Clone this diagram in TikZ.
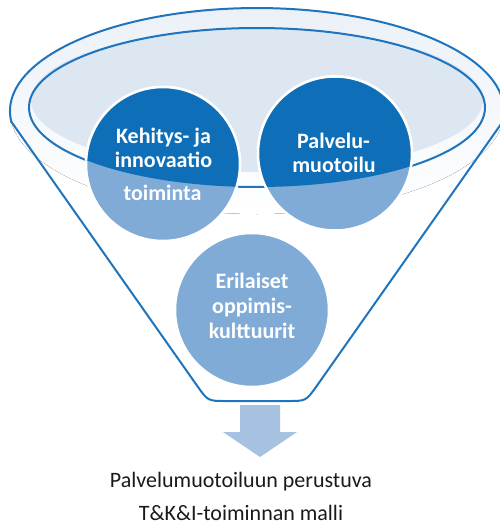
\documentclass[tikz,border=0pt]{standalone}
\usepackage{fontspec}
\setmainfont{Carlito}
\definecolor{rimblue}{HTML}{1F74BD}
\definecolor{bowl}{HTML}{DDE7F2}
\definecolor{rimtint}{HTML}{EBF1F8}
\definecolor{deepblue}{HTML}{0E6FB8}
\definecolor{paleblue}{HTML}{80ABD6}
\definecolor{arrowblue}{HTML}{A7C1E1}
\definecolor{inktext}{HTML}{1A1A1A}
\begin{document}
\begin{tikzpicture}[x=1pt,y=-1pt,
  funnelline/.style={draw=rimblue, line width=2pt},
  bubble/.style={draw=white, line width=2.5pt},
  bubbletext/.style={text=white, font=\bfseries\fontsize{22}{25}\selectfont, anchor=base, inner sep=0pt},
  caption/.style={text=inktext, font=\fontsize{22}{33}\selectfont, anchor=base, inner sep=0pt}]
\useasboundingbox (0,0) rectangle (500,527);

% funnel geometry
\coordinate (rimC) at (257,111);
\coordinate (A) at (11.4,121.8);
\coordinate (B) at (502.6,121.8);

% faint tint of the rim, fading downwards
\fill[top color=rimtint, middle color=white, bottom color=white] (rimC) ellipse [x radius=247, y radius=103];

% bowl surface
\fill[bowl] (257,100) ellipse [x radius=226, y radius=72];
\draw[funnelline] (257,107.5) ellipse [x radius=228, y radius=79.5];

% funnel body outline
\draw[funnelline] (A) -- (197.5,386.3) .. controls (207.9,401) .. (226,401)
  -- (288,401) .. controls (306,401) .. (316.5,386.3) -- (B)
  arc[start angle=366, end angle=174, x radius=247, y radius=103] -- cycle;

% bubbles, pale where they sit below the bowl
\filldraw[bubble, fill=paleblue] (163,164) circle [radius=77];
\filldraw[bubble, fill=paleblue] (335,153.5) circle [radius=77];
\filldraw[bubble, fill=paleblue] (252,310) circle [radius=77];
\begin{scope}
  \clip (257,107.5) ellipse [x radius=228, y radius=79.5];
  \filldraw[bubble, fill=deepblue] (163,164) circle [radius=77];
  \filldraw[bubble, fill=deepblue] (335,153.5) circle [radius=77];
\end{scope}

% bubble labels
\node[bubbletext] (k1) at (163.5,143) {Kehitys- ja};
\node[bubbletext] (k2) at (163.5,167) {innovaatio};
\node[bubbletext] (k3) at (162.5,200) {toiminta};
\node[bubbletext] (p1) at (333.5,148) {Palvelu-};
\node[bubbletext] (p2) at (334,172) {muotoilu};
\node[bubbletext] (e1) at (252,288) {Erilaiset};
\node[bubbletext] (e2) at (252,313) {oppimis-};
\node[bubbletext] (e3) at (252,338) {kulttuurit};

% output arrow
\fill[arrowblue] (240,405) -- (280,405) -- (280,432) -- (297,432) -- (260,457)
  -- (223,432) -- (240,432) -- cycle;

% caption
\node[caption] (c1) at (241,487) {Palvelumuotoiluun perustuva};
\node[caption] (c2) at (241,520) {T\&K\&I-toiminnan malli};
\end{tikzpicture}
\end{document}
